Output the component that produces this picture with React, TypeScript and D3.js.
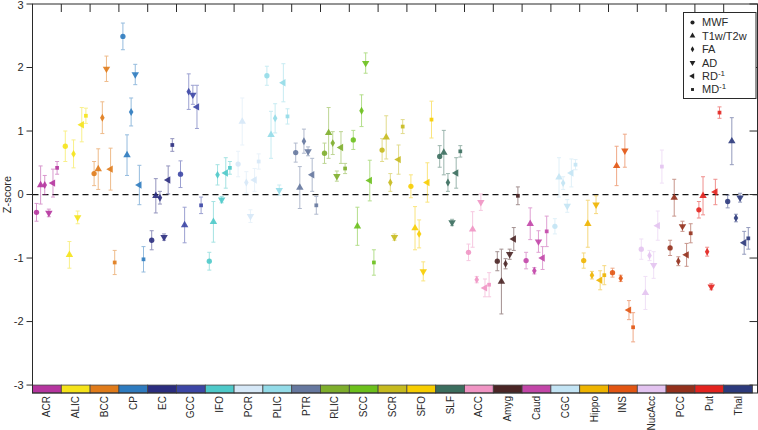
import React from "react";
import * as d3 from "d3";

const regions = ["ACR","ALIC","BCC","CP","EC","GCC","IFO","PCR","PLIC","PTR","RLIC","SCC","SCR","SFO","SLF","ACC","Amyg","Caud","CGC","Hippo","INS","NucAcc","PCC","Put","Thal"];
const regionColors = ["#b5359f","#f5e31a","#e07b1a","#2e7bbf","#2b2d7f","#3c46a5","#4ec9c9","#d6e8f7","#93dbe8","#66789f","#7eae2c","#6cc01c","#c6ba1e","#f7cd00","#3b6e5e","#f095c4","#4a2525","#c246a8","#c3e4f4","#eeb400","#e25512","#e3c3f0","#93301c","#e3231f","#2c3a7c"];

const metrics = ["MWF","T1w/T2w","FA","AD","RD","MD"];

const mwf    = [-0.28,0.76,0.33,2.49,-0.72,0.32,-1.05,0.48,1.87,0.66,0.65,0.86,0.70,0.13,0.60,-0.91,-1.05,-1.04,-0.50,-1.04,-1.23,-0.86,-0.84,-0.24,-0.11];
const mwfErr = [0.14,0.24,0.19,0.21,0.15,0.21,0.14,0.20,0.15,0.15,0.16,0.15,0.18,0.18,0.17,0.13,0.15,0.13,0.12,0.12,0.07,0.16,0.12,0.13,0.10];

const t1t2    = [0.15,-0.95,0.40,0.62,-0.02,-0.48,-0.43,1.15,0.94,0.11,0.97,-0.50,0.90,-0.53,0.66,-0.55,-1.37,-0.46,0.27,-0.46,0.45,-1.55,-0.05,-0.02,0.84];
const t1t2Err = [0.30,0.21,0.32,0.32,0.27,0.28,0.32,0.37,0.37,0.33,0.40,0.30,0.34,0.34,0.35,0.28,0.51,0.25,0.31,0.37,0.31,0.26,0.29,0.30,0.37];

const fa    = [0.15,0.64,1.21,1.30,-0.05,1.62,0.31,0.19,1.20,0.84,0.81,1.32,0.19,-0.62,0.19,-1.34,-1.09,-1.20,0.18,-1.27,-1.32,-0.96,-1.05,-0.90,-0.37];
const faErr = [0.15,0.22,0.25,0.22,0.10,0.28,0.16,0.17,0.23,0.19,0.18,0.25,0.14,0.22,0.14,0.05,0.08,0.05,0.10,0.06,0.05,0.08,0.07,0.07,0.06];

const ad    = [-0.29,-0.36,1.98,1.89,-0.67,1.57,-0.08,-0.34,0.07,0.68,0.29,2.07,-0.67,-1.21,-0.44,-0.12,-0.94,-0.74,-0.18,-0.16,0.69,-1.11,-0.50,-1.45,-0.05];
const adErr = [0.06,0.10,0.20,0.16,0.05,0.15,0.05,0.10,0.08,0.07,0.08,0.16,0.05,0.15,0.05,0.13,0.08,0.17,0.10,0.14,0.26,0.21,0.08,0.05,0.07];

const rdInv    = [0.18,1.10,0.40,0.15,0.23,1.38,0.34,0.23,1.76,0.31,0.74,0.22,0.55,0.19,0.34,-1.47,-0.70,-1.00,0.34,-1.35,-1.82,-0.49,-0.95,0.04,-0.76];
const rdInvErr = [0.22,0.27,0.33,0.31,0.22,0.34,0.24,0.18,0.30,0.26,0.25,0.32,0.23,0.31,0.24,0.14,0.18,0.18,0.22,0.15,0.15,0.23,0.18,0.20,0.18];

const mdInv    = [0.42,1.24,-1.07,-1.02,0.78,-0.17,0.42,0.52,1.23,-0.17,0.41,-1.07,1.07,1.18,0.68,-1.42,-0.02,-0.58,0.47,-1.27,-2.09,0.44,-0.61,1.29,-0.69];
const mdInvErr = [0.10,0.12,0.19,0.20,0.10,0.13,0.10,0.12,0.12,0.14,0.08,0.20,0.11,0.29,0.09,0.19,0.14,0.24,0.08,0.15,0.23,0.26,0.15,0.09,0.17];

const yTicks = [3,2,1,0,-1,-2,-3];

const seriesValues = [mwf, t1t2, fa, ad, rdInv, mdInv];
const seriesErrors = [mwfErr, t1t2Err, faErr, adErr, rdInvErr, mdInvErr];

const W = 758, H = 430;
const left = 32.5, bandsRight = 752.5, right = 757.5, top = 4, bottom = 393;
const FONT = "'Liberation Sans', Arial, Helvetica, sans-serif";
const TXT = "#2a2a2a";

function symbolPath(i: number, size: number) {
  const types = [d3.symbolCircle, d3.symbolTriangle, d3.symbolDiamond, d3.symbolTriangle, d3.symbolTriangle, d3.symbolSquare];
  return d3.symbol().type(types[i]).size(size)() as string;
}
const rotations = [0, 0, 0, 180, -90, 0];
const sizes = [22, 24, 18, 24, 24, 14];

export default function App() {
  const x = d3.scaleBand().domain(regions).range([left, bandsRight]).padding(0);
  const inner = d3.scalePoint().domain(metrics).range([4, 24.6]);
  const y = d3.scaleLinear().domain([-3.125, 3]).range([bottom, top]);

  const marks: React.ReactNode[] = [];
  regions.forEach((r, ri) => {
    const col = regionColors[ri];
    metrics.forEach((m, mi) => {
      const v = seriesValues[mi][ri];
      const e = seriesErrors[mi][ri];
      const cx = (x(r) as number) + (inner(m) as number);
      const cy = y(v);
      const y1 = y(v + e), y2 = y(v - e);
      marks.push(
        <g key={r + m}>
          <g stroke={col} strokeWidth={1} opacity={0.5}>
            <line x1={cx} x2={cx} y1={y1} y2={y2} />
            <line x1={cx - 2} x2={cx + 2} y1={y1} y2={y1} />
            <line x1={cx - 2} x2={cx + 2} y1={y2} y2={y2} />
          </g>
          <path d={symbolPath(mi, sizes[mi])} transform={`translate(${cx},${cy}) rotate(${rotations[mi]})`} fill={col} opacity={0.9} />
        </g>
      );
    });
  });

  const legendY0 = 22.5, legendDy = 13.4;
  const legendLabels: React.ReactNode[] = [
    "MWF", "T1w/T2w", "FA", "AD",
    <>RD<tspan dy={-4} fontSize={8}>-1</tspan></>,
    <>MD<tspan dy={-4} fontSize={8}>-1</tspan></>,
  ];

  return (
    <div style={{ position: "absolute", left: 0, top: 0 }}>
      <style>{`body{margin:0}`}</style>
      <svg width={W} height={H} style={{ display: "block", background: "#fff" }} fontFamily={FONT}>
        <line x1={left} x2={right} y1={y(0)} y2={y(0)} stroke="#111" strokeWidth={1.2} strokeDasharray="6,4" />
        {marks}
        {regions.map((r, ri) => (
          <rect key={r} x={x(r)} y={y(-3)} width={x.bandwidth()} height={bottom - y(-3)} fill={regionColors[ri]} stroke="#444" strokeWidth={0.8} />
        ))}
        <rect x={left} y={top} width={right - left} height={bottom - top} fill="none" stroke={TXT} strokeWidth={1} />
        {regions.slice(1).map((r) => (
          <line key={"tt" + r} x1={x(r)} x2={x(r)} y1={top} y2={top + 8} stroke={TXT} strokeWidth={1} />
        ))}
        {yTicks.map((t) => (
          <g key={"yt" + t}>
            <line x1={left - 6} x2={left} y1={y(t)} y2={y(t)} stroke={TXT} />
            <line x1={right - 8} x2={right} y1={y(t)} y2={y(t)} stroke={TXT} />
            <text x={left - 9} y={Math.max(y(t), 5)} dy="0.35em" textAnchor="end" fontSize={11} fill={TXT}>{t}</text>
          </g>
        ))}
        <text transform={`translate(11,${y(0)}) rotate(-90)`} textAnchor="middle" fontSize={11} fill={TXT}>Z-score</text>
        {regions.map((r) => (
          <text key={"xl" + r} transform={`translate(${(x(r) as number) + x.bandwidth() / 2},${bottom + 3}) rotate(-90)`} textAnchor="end" dy="0.35em" fontSize={10} fill={TXT}>{r}</text>
        ))}
        <rect x={683.5} y={12.5} width={72.5} height={86} fill="#fff" stroke={TXT} strokeWidth={1} />
        {metrics.map((m, mi) => (
          <g key={"lg" + m} transform={`translate(0,${legendY0 + mi * legendDy})`}>
            <path d={symbolPath(mi, sizes[mi] * 0.6)} transform={`translate(692.5,0) rotate(${rotations[mi]})`} fill="#222" />
            <text x={702} y={0} dy="0.35em" fontSize={11} fill={TXT}>{legendLabels[mi]}</text>
          </g>
        ))}
      </svg>
    </div>
  );
}
